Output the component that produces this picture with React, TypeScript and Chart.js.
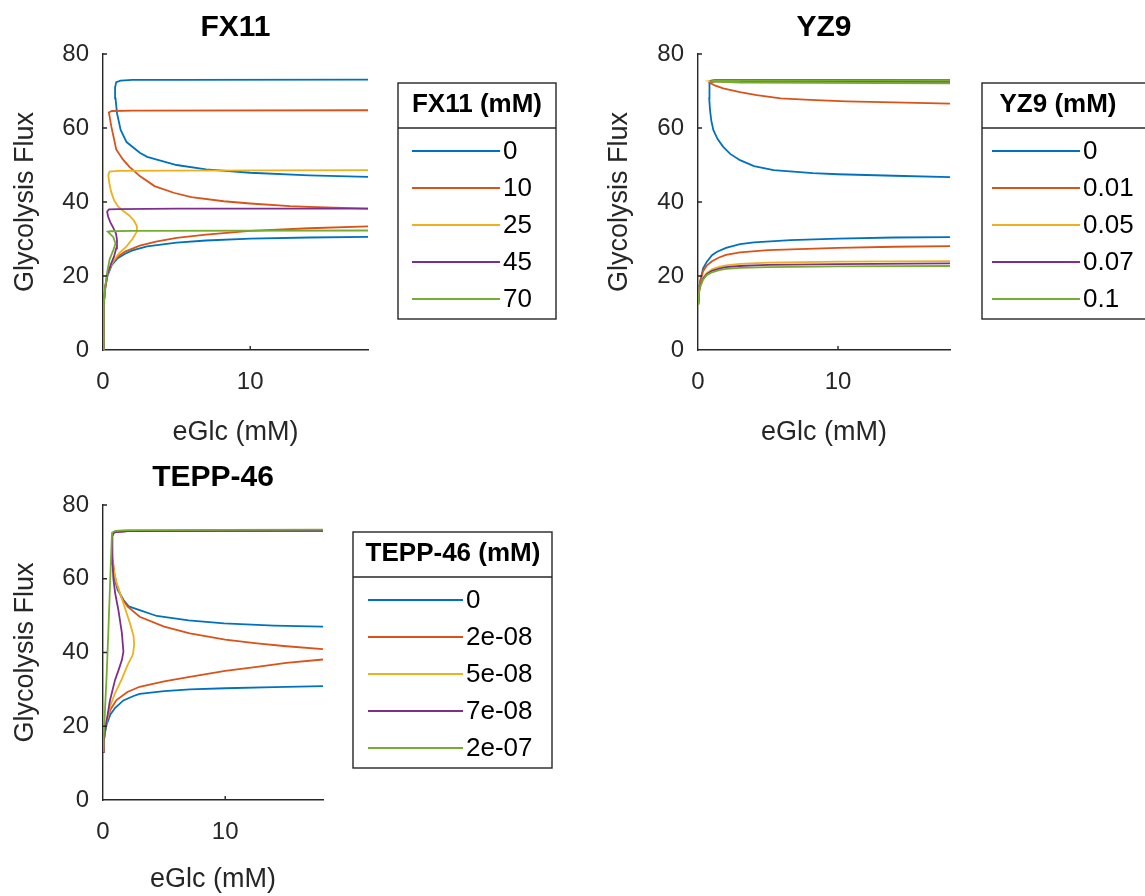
import React, { useEffect, useRef } from 'react';
import { Chart, registerables } from 'chart.js';

Chart.register(...registerables);

type Pt = [number, number | null];

const FONT = "'Liberation Sans', Arial, Helvetica, sans-serif";
const COLORS = ['#0072BD', '#D95319', '#EDB120', '#7E2F8E', '#77AC30'];
const X_TICKS = [0, 10];
const Y_TICKS = [0, 20, 40, 60, 80];
const X_MAX = 18;
const Y_MAX = 80;

// ---------- FX11 ----------
const FX11_LABELS = ['0', '10', '25', '45', '70'];
const fx11_0: Pt[] = [
  [0, 0], [0.02, 6], [0.06, 12], [0.15, 16.5], [0.3, 20], [0.6, 23], [1, 24.8], [1.5, 26], [2, 26.9], [3, 28],
  [5, 29], [7, 29.6], [10, 30.1], [14, 30.4], [18, 30.6], [18, null],
  [18, 46.8], [14, 47.2], [10, 47.9], [7, 48.8], [5, 50], [3.6, 51.5], [3, 52.2], [2.5, 53.3], [1.6, 56.2],
  [1.2, 59.5], [0.95, 64], [0.85, 68], [0.82, 71], [0.9, 72.4], [1.2, 72.8], [2, 73], [5, 73], [18, 73.1],
];
const fx11_10: Pt[] = [
  [0, 0], [0.02, 6], [0.06, 12], [0.15, 17], [0.3, 20.5], [0.6, 23.5], [1, 25.2], [1.5, 26.6], [2.5, 28.2],
  [3.6, 29.3], [5, 30.3], [7, 31.2], [10, 32.2], [14, 32.9], [18, 33.4], [18, null],
  [18, 38.2], [14, 38.7], [12.7, 38.9], [10, 39.6], [8.2, 40.2], [6, 41.3], [4.8, 42.5], [3.5, 44.3], [2.5, 47],
  [1.8, 49.5], [1.35, 51.5], [0.9, 54.2], [0.56, 60.5], [0.44, 63.3], [0.4, 64.2], [0.6, 64.6], [2, 64.7], [18, 64.8],
];
const fx11_25: Pt[] = [
  [0, 0], [0.02, 6], [0.06, 12], [0.15, 17], [0.3, 20.5], [0.55, 23], [0.8, 24.6], [1.1, 26.2], [1.6, 28],
  [2.0, 30], [2.3, 32], [2.3, 33.5], [2.1, 35], [1.8, 36.3], [1.4, 37.5], [1.0, 38.9], [0.75, 40.5], [0.55, 42.8],
  [0.42, 45.3], [0.36, 47.3], [0.45, 48.2], [1, 48.4], [5, 48.5], [18, 48.6],
];
const fx11_45: Pt[] = [
  [0, 0], [0.02, 6], [0.06, 12], [0.15, 17], [0.3, 20.5], [0.55, 23.3], [0.75, 25.3], [0.9, 27.5], [0.95, 29.8],
  [0.88, 31.5], [0.7, 33], [0.5, 34.5], [0.35, 36], [0.28, 37.4], [0.4, 38], [1, 38.1], [5, 38.2], [18, 38.2],
];
const fx11_70: Pt[] = [
  [0, 0], [0.02, 6], [0.06, 12], [0.15, 17], [0.28, 21], [0.45, 24.5], [0.7, 27], [0.85, 28.8], [0.7, 30.5],
  [0.45, 31.5], [0.32, 32], [0.5, 32.1], [2, 32.2], [18, 32.3],
];

// ---------- YZ9 ----------
const YZ9_LABELS = ['0', '0.01', '0.05', '0.07', '0.1'];
const yz9_0: Pt[] = [
  [0, 13.5], [0.05, 16], [0.15, 18.5], [0.36, 22], [0.62, 23.8], [1, 25.6], [1.33, 26.5], [2, 27.6], [3, 28.6],
  [4, 29.1], [6.6, 29.7], [10, 30.1], [14, 30.4], [18, 30.5], [18, null],
  [18, 46.7], [14, 47.1], [10, 47.5], [8.2, 47.8], [5.4, 48.6], [4, 49.7], [3, 51.3], [2.3, 53], [1.8, 54.9],
  [1.4, 57], [1.1, 59.4], [0.95, 62], [0.86, 64.8], [0.8, 68], [0.79, 71], [0.85, 72.2], [1.2, 72.6], [3, 72.8], [18, 72.9],
];
const yz9_01: Pt[] = [
  [0, 13.5], [0.05, 16], [0.15, 18.3], [0.36, 21.3], [0.62, 22.8], [1, 24], [1.5, 25], [2, 25.7], [3, 26.4],
  [5, 27], [10, 27.6], [14, 27.9], [18, 28.1], [18, null],
  [18, 66.6], [14, 66.9], [10.6, 67.2], [8, 67.6], [5.9, 68], [4.2, 68.9], [3, 69.7], [1.8, 70.7], [1.2, 71.5],
  [0.85, 72.2], [1.2, 72.7], [3, 72.8], [18, 72.9],
];
const yz9_05: Pt[] = [
  [0, 13], [0.05, 15.5], [0.15, 17.5], [0.36, 19.5], [0.62, 20.8], [1, 21.8], [1.5, 22.5], [2, 22.9], [3, 23.3],
  [5, 23.6], [10, 23.9], [18, 24], [18, null],
  [18, 72.3], [10, 72.4], [3, 72.5], [1, 72.6], [0.85, 72.7], [1.2, 72.9], [18, 73],
];
const yz9_07: Pt[] = [
  [0, 12.8], [0.05, 15.3], [0.15, 17.3], [0.36, 19.3], [0.62, 20.5], [1, 21.4], [1.5, 22], [2, 22.4], [3, 22.7],
  [5, 23], [10, 23.2], [18, 23.4], [18, null],
  [18, 72.4], [3, 72.5], [0.85, 72.7], [1.2, 72.9], [18, 73],
];
const yz9_1: Pt[] = [
  [0, 12.5], [0.05, 15], [0.15, 17], [0.36, 19], [0.62, 20.2], [1, 21], [1.5, 21.6], [2, 21.9], [3, 22.2],
  [5, 22.4], [10, 22.6], [18, 22.7], [18, null],
  [18, 72.1], [3, 72.3], [0.85, 72.6], [1.2, 72.8], [18, 72.9],
];

// ---------- TEPP-46 ----------
const TEPP_LABELS = ['0', '2e-08', '5e-08', '7e-08', '2e-07'];
const tepp_0: Pt[] = [
  [0, 13], [0.05, 15.5], [0.15, 18], [0.3, 20.5], [0.6, 23.2], [1, 25], [1.67, 27], [2.5, 28.2], [3, 28.8],
  [5, 29.5], [7.1, 30], [10, 30.3], [14, 30.6], [18, 30.9], [18, null],
  [18, 47], [14, 47.3], [9.9, 47.9], [7, 48.7], [4.4, 49.9], [3, 51.5], [2.1, 52.5], [1.67, 54.3], [1.2, 57],
  [0.95, 60], [0.8, 64], [0.75, 68], [0.74, 71.5], [0.9, 72.6], [2, 72.9], [18, 73],
];
const tepp_2e8: Pt[] = [
  [0, 13], [0.05, 15.5], [0.15, 18.5], [0.3, 21.5], [0.6, 24.5], [1.1, 27.1], [2, 29.3], [3, 30.7], [5, 32.2],
  [7.1, 33.4], [10, 35], [12.6, 36.1], [15, 37.2], [18, 38.1], [18, null],
  [18, 40.9], [15, 41.7], [12.6, 42.5], [10, 43.5], [7.1, 45.2], [5, 47], [3, 49.7], [2, 52.5], [1.5, 55],
  [1.1, 58.7], [0.9, 62], [0.78, 66], [0.75, 70], [0.8, 72.5], [1.5, 72.9], [18, 73],
];
const tepp_5e8: Pt[] = [
  [0, 13], [0.05, 15.5], [0.15, 18.5], [0.3, 21.2], [0.57, 25.3], [0.98, 28.9], [1.5, 32.5], [2.0, 36.5],
  [2.45, 39.5], [2.55, 42], [2.5, 44.5], [2.2, 48], [1.8, 52], [1.4, 56], [1.05, 59.5], [0.85, 63], [0.76, 67],
  [0.74, 71.5], [0.9, 72.6], [2, 72.9], [18, 73],
];
const tepp_7e8: Pt[] = [
  [0, 13], [0.05, 15.5], [0.15, 18.5], [0.3, 21.5], [0.57, 27], [0.98, 32.5], [1.3, 35.5], [1.55, 38], [1.67, 40.2],
  [1.6, 43], [1.55, 45.2], [1.26, 51.5], [1.0, 56], [0.85, 60], [0.77, 65], [0.74, 69], [0.74, 71.5], [0.9, 72.6],
  [2, 72.9], [18, 73],
];
const tepp_2e7: Pt[] = [
  [0, 13], [0.1, 20], [0.2, 27], [0.3, 34], [0.43, 45], [0.55, 56], [0.65, 65], [0.71, 70.5], [0.75, 72.5],
  [1, 73], [2, 73.2], [18, 73.3],
];

interface LegendBox {
  x: number; y: number; w: number; h: number;
  titleCx: number; lineX0: number; lineX1: number; textX: number;
}
interface PanelCfg {
  left: number; top: number; width: number; height: number;
  area: { left: number; right: number; top: number; bottom: number };
  xLabelY: number; yLabelX: number; titleY: number;
  title: string; legendTitle: string; labels: string[]; series: Pt[][];
  legend: LegendBox;
}

const PANELS: PanelCfg[] = [
  {
    left: 0, top: 0, width: 575, height: 450,
    area: { left: 103, right: 368, top: 54, bottom: 350 },
    xLabelY: 433, yLabelX: 26, titleY: 28,
    title: 'FX11', legendTitle: 'FX11 (mM)', labels: FX11_LABELS,
    series: [fx11_0, fx11_10, fx11_25, fx11_45, fx11_70],
    legend: { x: 398, y: 83, w: 158, h: 236, titleCx: 477, lineX0: 412, lineX1: 500, textX: 503 },
  },
  {
    left: 595, top: 0, width: 550, height: 450,
    area: { left: 103, right: 355, top: 54, bottom: 350 },
    xLabelY: 433, yLabelX: 25, titleY: 28,
    title: 'YZ9', legendTitle: 'YZ9 (mM)', labels: YZ9_LABELS,
    series: [yz9_0, yz9_01, yz9_05, yz9_07, yz9_1],
    legend: { x: 387, y: 83, w: 178, h: 236, titleCx: 463, lineX0: 397, lineX1: 485, textX: 488 },
  },
  {
    left: 0, top: 450, width: 575, height: 446,
    area: { left: 103, right: 323, top: 55, bottom: 350 },
    xLabelY: 430, yLabelX: 26, titleY: 28,
    title: 'TEPP-46', legendTitle: 'TEPP-46 (mM)', labels: TEPP_LABELS,
    series: [tepp_0, tepp_2e8, tepp_5e8, tepp_7e8, tepp_2e7],
    legend: { x: 353, y: 82, w: 199, h: 236, titleCx: 453, lineX0: 368, lineX1: 463, textX: 466 },
  },
];

function makeLegendPlugin(cfg: PanelCfg) {
  return {
    id: 'mlLegend',
    afterDraw(chart: any) {
      const ctx: CanvasRenderingContext2D = chart.ctx;
      const L = cfg.legend;
      ctx.save();
      ctx.fillStyle = '#ffffff';
      ctx.fillRect(L.x, L.y, L.w, L.h);
      ctx.strokeStyle = '#262626';
      ctx.lineWidth = 1.4;
      ctx.strokeRect(L.x, L.y, L.w, L.h);
      ctx.beginPath();
      ctx.moveTo(L.x, L.y + 45);
      ctx.lineTo(L.x + L.w, L.y + 45);
      ctx.stroke();
      ctx.fillStyle = '#000000';
      ctx.font = `bold 26px ${FONT}`;
      ctx.textAlign = 'center';
      ctx.textBaseline = 'middle';
      ctx.fillText(cfg.legendTitle, L.titleCx, L.y + 22);
      ctx.font = `26px ${FONT}`;
      ctx.textAlign = 'left';
      cfg.labels.forEach((lab, i) => {
        const yy = L.y + 68 + i * 37;
        ctx.strokeStyle = COLORS[i];
        ctx.lineWidth = 1.8;
        ctx.beginPath();
        ctx.moveTo(L.lineX0, yy);
        ctx.lineTo(L.lineX1, yy);
        ctx.stroke();
        ctx.fillStyle = '#000000';
        ctx.fillText(lab, L.textX, yy + 1);
      });
      ctx.restore();
    },
  };
}

const inwardTicks = {
  id: 'inwardTicks',
  afterDatasetsDraw(chart: any) {
    const ctx: CanvasRenderingContext2D = chart.ctx;
    const { left, bottom } = chart.chartArea;
    const xs = chart.scales.x;
    const ys = chart.scales.y;
    ctx.save();
    ctx.strokeStyle = '#262626';
    ctx.lineWidth = 1.4;
    ctx.beginPath();
    X_TICKS.forEach((v) => {
      if (v === 0) return;
      const px = xs.getPixelForValue(v);
      ctx.moveTo(px, bottom);
      ctx.lineTo(px, bottom - 4);
    });
    Y_TICKS.forEach((v) => {
      if (v === 0) return;
      const py = ys.getPixelForValue(v);
      ctx.moveTo(left, py);
      ctx.lineTo(left + 4, py);
    });
    ctx.stroke();
    ctx.restore();
  },
};

function Panel({ cfg }: { cfg: PanelCfg }) {
  const ref = useRef<HTMLCanvasElement | null>(null);
  useEffect(() => {
    if (!ref.current) return;
    const titleLH = 36;
    const titlePadTop = cfg.titleY - titleLH / 2;
    const titlePadBottom = cfg.area.top - titlePadTop - titleLH;
    const xTitleLH = 27 * 1.2;
    const xTitlePadBottom = Math.max(0, cfg.height - cfg.xLabelY - xTitleLH / 2);
    const yTitlePadTop = Math.max(0, cfg.yLabelX - xTitleLH / 2);
    const chart = new Chart(ref.current, {
      type: 'scatter',
      data: {
        datasets: cfg.series.map((pts, i) => ({
          label: cfg.labels[i],
          data: pts.map(([x, y]) => ({ x, y })),
          showLine: true,
          borderColor: COLORS[i],
          backgroundColor: COLORS[i],
          borderWidth: 1.8,
          pointRadius: 0,
          pointHoverRadius: 0,
          fill: false,
          tension: 0,
          spanGaps: false,
          order: cfg.series.length - i,
        })),
      } as any,
      options: {
        animation: false,
        responsive: false,
        maintainAspectRatio: false,
        devicePixelRatio: 1,
        events: [],
        layout: { padding: { left: 0, top: 0, bottom: 0, right: cfg.width - cfg.area.right } },
        plugins: {
          legend: { display: false },
          tooltip: { enabled: false },
          title: {
            display: true,
            text: cfg.title,
            fullSize: false,
            color: '#000000',
            font: { family: FONT, size: 30, weight: 'bold', lineHeight: 1.2 },
            padding: { top: titlePadTop, bottom: titlePadBottom },
          },
        },
        scales: {
          x: {
            type: 'linear',
            min: 0,
            max: X_MAX,
            afterBuildTicks: (s: any) => { s.ticks = X_TICKS.map((v) => ({ value: v })); },
            afterFit: (s: any) => { s.height = cfg.height - cfg.area.bottom; },
            ticks: { font: { family: FONT, size: 24 }, color: '#262626', padding: 18, maxRotation: 0 },
            grid: { display: false, drawTicks: false },
            border: { display: true, color: '#262626', width: 1.4 },
            title: {
              display: true, text: 'eGlc (mM)', color: '#262626',
              font: { family: FONT, size: 27, lineHeight: 1.2 },
              padding: { top: 0, bottom: xTitlePadBottom },
            },
          },
          y: {
            type: 'linear',
            min: 0,
            max: Y_MAX,
            afterBuildTicks: (s: any) => { s.ticks = Y_TICKS.map((v) => ({ value: v })); },
            afterFit: (s: any) => { s.width = cfg.area.left; },
            ticks: { font: { family: FONT, size: 24 }, color: '#262626', padding: 14 },
            grid: { display: false, drawTicks: false },
            border: { display: true, color: '#262626', width: 1.4 },
            title: {
              display: true, text: 'Glycolysis Flux', color: '#262626',
              font: { family: FONT, size: 27, lineHeight: 1.2 },
              padding: { top: yTitlePadTop, bottom: 0 },
            },
          },
        },
      } as any,
      plugins: [inwardTicks, makeLegendPlugin(cfg)],
    });
    return () => chart.destroy();
  }, [cfg]);
  return (
    <canvas
      ref={ref}
      width={cfg.width}
      height={cfg.height}
      style={{ position: 'absolute', left: cfg.left, top: cfg.top, width: cfg.width, height: cfg.height }}
    />
  );
}

export default function App() {
  return (
    <div
      style={{
        position: 'fixed', left: 0, top: 0, width: 1145, height: 896,
        overflow: 'hidden', background: '#ffffff',
      }}
    >
      {PANELS.map((p, i) => (
        <Panel key={i} cfg={p} />
      ))}
    </div>
  );
}
